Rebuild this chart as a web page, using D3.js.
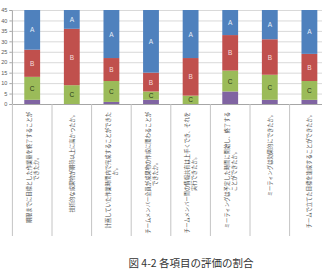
<!DOCTYPE html>
<html>
<head>
<meta charset="utf-8">
<script src="https://cdn.jsdelivr.net/npm/d3@7"></script>
<style>
  body { margin: 0; background: #fff; }
  svg { display: block; }
</style>
</head>
<body>
<div id="chart"></div>
<script>
// data (stacked from the bottom: D, C, B, A)
var categories = ["q1", "q2", "q3", "q4", "q5", "q6", "q7", "q8"];
var labelLines = [
  ["期限までに目標とした作業量を終了することが", "できたか。"],
  ["技術的な成果物が期待以上に高かったか。"],
  ["計画していた作業時間内で完成することができた", "か。"],
  ["チームメンバー全員が成果物の作成に関わることが", "できたか。"],
  ["チームメンバー間の情報共有は上手くでき、それを", "実行できたか。"],
  ["ミーティングは予定した時間に開始し、終了する", "ことができたか。"],
  ["ミーティングは効果的にできたか。"],
  ["チームで立てた目標を達成することができたか。"]
];
var seriesD = [2, 0, 1, 2, 0, 6, 2, 2];
var seriesC = [11, 9, 10, 4, 4, 10, 12, 9];
var seriesB = [13, 27, 11, 9, 18, 17, 17, 13];
var seriesA = [19, 9, 23, 30, 23, 12, 14, 21];
var seriesNames = ["D", "C", "B", "A"];
var yTicks = [0, 5, 10, 15, 20, 25, 30, 35, 40, 45];
var caption = "図 4-2 各項目の評価の割合";

var width = 322, height = 269;
var margin = { top: 10, left: 12.4, bottom: 165 };

var svg = d3.select("#chart")
  .append("svg")
  .attr("width", width)
  .attr("height", height);

var x = d3.scaleBand()
  .domain(categories)
  .range([margin.left, margin.left + 8 * 39.6])
  .paddingInner(0.6)
  .paddingOuter(0.3);

var y = d3.scaleLinear()
  .domain([0, 45])
  .range([height - margin.bottom, margin.top]);

var colors = { D: "#8064A2", C: "#9BBB59", B: "#C0504D", A: "#4F81BD" };
var textColors = { C: "#2a3a18", B: "#f4dede", A: "#e6eef8" };

// gridlines
svg.append("g")
  .selectAll("line")
  .data(yTicks.slice(1))
  .enter()
  .append("line")
  .attr("x1", margin.left)
  .attr("x2", width)
  .attr("y1", function(d) { return y(d) + 0.5; })
  .attr("y2", function(d) { return y(d) + 0.5; })
  .attr("stroke", "#d9d9d9")
  .attr("stroke-width", 1);

// stacked bars
var rows = categories.map(function(c, i) {
  return { cat: c, D: seriesD[i], C: seriesC[i], B: seriesB[i], A: seriesA[i] };
});
var stacked = d3.stack().keys(seriesNames)(rows);

var layers = svg.append("g")
  .selectAll("g")
  .data(stacked)
  .enter()
  .append("g")
  .attr("fill", function(d) { return colors[d.key]; });

layers.selectAll("rect")
  .data(function(d) { return d; })
  .enter()
  .append("rect")
  .attr("x", function(d) { return x(d.data.cat); })
  .attr("width", x.bandwidth())
  .attr("y", function(d) { return y(d[1]); })
  .attr("height", function(d) { return y(d[0]) - y(d[1]); });

// segment letters (not for D)
stacked.forEach(function(layer) {
  if (layer.key === "D") return;
  svg.append("g")
    .selectAll("text")
    .data(layer.filter(function(d) { return d[1] - d[0] > 0; }))
    .enter()
    .append("text")
    .attr("x", function(d) { return x(d.data.cat) + x.bandwidth() / 2; })
    .attr("y", function(d) { return (y(d[0]) + y(d[1])) / 2; })
    .attr("text-anchor", "middle")
    .attr("dominant-baseline", "central")
    .attr("font-family", "Liberation Sans, Arial, sans-serif")
    .attr("font-size", 6.5)
    .attr("fill", textColors[layer.key])
    .text(layer.key);
});

// axes
var yAxis = d3.axisLeft(y).tickValues(yTicks).tickSize(2.5).tickPadding(2);
var gy = svg.append("g")
  .attr("transform", "translate(" + (margin.left - 0.5) + ",0)")
  .call(yAxis);
gy.select(".domain").attr("stroke", "#a6a6a6");
gy.selectAll(".tick line").attr("stroke", "#a6a6a6");
gy.selectAll(".tick text")
  .attr("font-family", "Liberation Sans, Arial, sans-serif")
  .attr("font-size", 5.5)
  .attr("fill", "#595959");

svg.append("line")
  .attr("x1", margin.left)
  .attr("x2", width)
  .attr("y1", y(0) + 0.5)
  .attr("y2", y(0) + 0.5)
  .attr("stroke", "#a6a6a6");

// category dividers
var step = x.step();
svg.append("g")
  .selectAll("line")
  .data(d3.range(9))
  .enter()
  .append("line")
  .attr("x1", function(i) { return margin.left + i * step; })
  .attr("x2", function(i) { return margin.left + i * step; })
  .attr("y1", y(0))
  .attr("y2", 236)
  .attr("stroke", "#c4c4c4");

// rotated category labels, top aligned, lines centered
var labelTop = 112;
var lineGap = 7;
categories.forEach(function(c, i) {
  var lines = labelLines[i];
  var cx = x(c) + x.bandwidth() / 2;
  var g = svg.append("g");
  var texts = g.selectAll("text")
    .data(lines)
    .enter()
    .append("text")
    .attr("text-anchor", "middle")
    .attr("dominant-baseline", "central")
    .attr("font-family", "Noto Sans CJK JP, sans-serif")
    .attr("font-size", 5.3)
    .attr("fill", "#4a4a4a")
    .text(function(d) { return d; });
  var maxLen = 0;
  texts.each(function() { maxLen = Math.max(maxLen, this.getComputedTextLength()); });
  var cy = labelTop + maxLen / 2;
  texts.attr("transform", function(d, j) {
    var lx = cx + (j - (lines.length - 1) / 2) * lineGap;
    return "translate(" + lx + "," + cy + ") rotate(-90)";
  });
});

// caption
svg.append("text")
  .attr("x", 191)
  .attr("y", 267)
  .attr("text-anchor", "middle")
  .attr("font-family", "Noto Sans CJK JP, sans-serif")
  .attr("font-size", 10.5)
  .attr("fill", "#333")
  .text(caption);
</script>
</body>
</html>
